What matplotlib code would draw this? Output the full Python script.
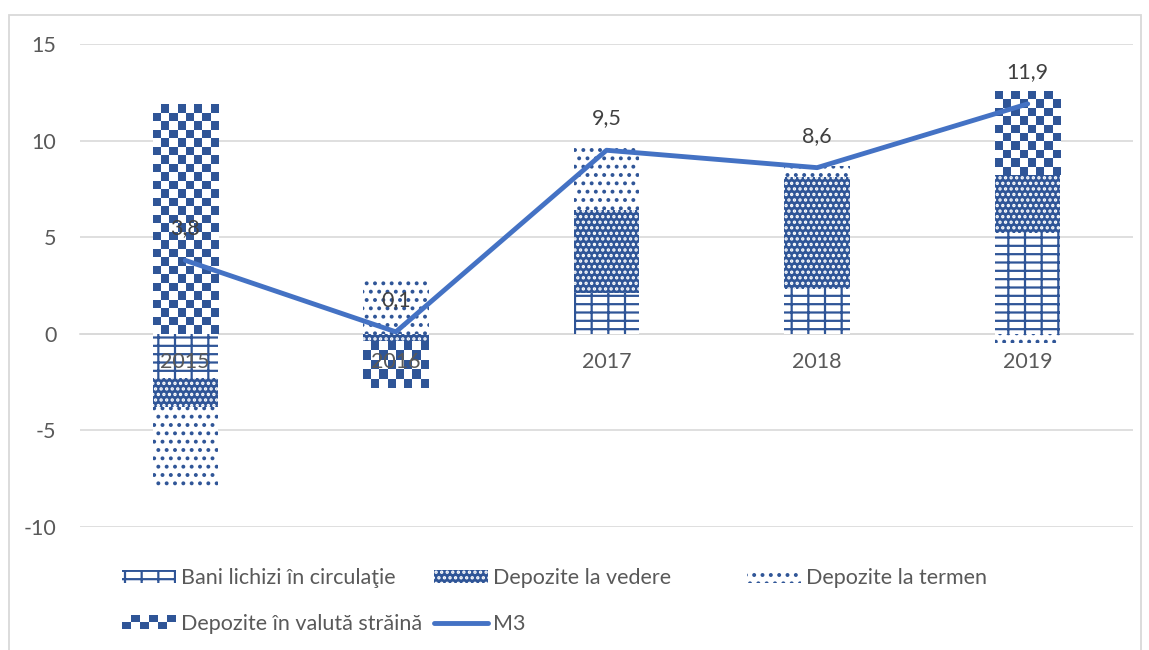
import numpy as np
import matplotlib.pyplot as plt
from matplotlib.colors import ListedColormap
from matplotlib.patches import Rectangle
from matplotlib.legend_handler import HandlerBase

plt.rcParams['font.family'] = ['Lato', 'DejaVu Sans']
plt.rcParams['hatch.linewidth'] = 1.6

years = ['2015', '2016', '2017', '2018', '2019']
bani = [-2.3, 0.0, 2.1, 2.3, 5.2]
vedere = [-1.5, -0.4, 4.3, 5.8, 3.0]
termen = [-4.1, 2.9, 3.2, 0.6, -0.5]
valuta = [11.9, -2.4, 0.0, 0.0, 4.3]
m3 = [3.8, 0.1, 9.5, 8.6, 11.9]
m3_labels = ['3,8', '0,1', '9,5', '8,6', '11,9']

blue = '#2F5597'
line_blue = '#4472C4'
txt = '#595959'
grid = '#D9D9D9'
fs = 15.5

W, H = 1149, 650
fig = plt.figure(figsize=(W / 100, H / 100), dpi=100)
fig.patches.append(Rectangle((9 / W, -0.1), 1132 / W, 1.1 - 15 / H,
                             transform=fig.transFigure, fill=False,
                             edgecolor=grid, linewidth=1.3))
ax = fig.add_axes([80 / W, 123 / H, 1053 / W, 483 / H])
ax.set_xlim(-0.5, 4.5)
ax.set_ylim(-10, 15)

x = np.arange(len(years))
bw = 0.31

# stack positives and negatives separately like Excel
series = [bani, vedere, termen, valuta]
pos = np.zeros(len(years))
neg = np.zeros(len(years))
bottoms = []
for s in series:
    s = np.array(s)
    b = np.where(s >= 0, pos, neg)
    bottoms.append(b)
    pos += np.where(s >= 0, s, 0)
    neg += np.where(s < 0, s, 0)

h_bani = ax.bar(x, bani, bw, bottom=bottoms[0], facecolor='white',
                edgecolor=blue, hatch='--|', linewidth=0, zorder=2)
h_ved = ax.bar(x, vedere, bw, bottom=bottoms[1], facecolor=blue,
               edgecolor='white', hatch='...', linewidth=0, zorder=2)
h_ter = ax.bar(x, termen, bw, bottom=bottoms[2], facecolor='white',
               edgecolor=blue, hatch='..', linewidth=0, zorder=2)
h_val = ax.bar(x, valuta, bw, bottom=bottoms[3], facecolor='white',
               edgecolor=blue, linewidth=0, zorder=2)

# checkerboard fill for foreign currency deposits
px_x = 1053 / 5.0
px_y = 483 / 25.0
sq = 8.5
cmap = ListedColormap(['white', blue])
for xi, b, v in zip(x, bottoms[3], valuta):
    if v == 0:
        continue
    y0, y1 = sorted([b, b + v])
    nx = max(1, int(round(bw * px_x / sq)))
    ny = max(1, int(round((y1 - y0) * px_y / sq)))
    ii, jj = np.indices((ny, nx))
    board = (ii + jj) % 2
    ax.imshow(board, cmap=cmap, extent=(xi - bw / 2, xi + bw / 2, y0, y1),
              aspect='auto', interpolation='nearest', origin='lower', zorder=2)
ax.set_xlim(-0.5, 4.5)
ax.set_ylim(-10, 15)

line, = ax.plot(x, m3, color=line_blue, linewidth=3.5, zorder=3,
                solid_capstyle='round')
for xi, v, lab in zip(x, m3, m3_labels):
    ax.annotate(lab, (xi, v), xytext=(0, 23), textcoords='offset points',
                ha='center', va='center', fontsize=fs, color='#404040', zorder=4)

# category labels sit on top of the bars
for xi, yr in zip(x, years):
    ax.annotate(yr, (xi, 0), xytext=(0, -20), textcoords='offset points',
                ha='center', va='center', fontsize=fs, color=txt, zorder=5)

ax.set_yticks([-10, -5, 0, 5, 10, 15])
ax.set_yticklabels(['-10', '-5', '0', '5', '10', '15'])
ax.grid(axis='y', color=grid, linewidth=1.2, zorder=0)
ax.set_axisbelow(True)
for s in ['top', 'right', 'left']:
    ax.spines[s].set_visible(False)
ax.spines['bottom'].set_position(('data', 0))
ax.spines['bottom'].set_color(grid)
ax.spines['bottom'].set_linewidth(1.2)
ax.spines['bottom'].set_zorder(1)
ax.set_xticks([])
ax.tick_params(axis='y', length=0, pad=17, labelsize=fs, labelcolor=txt)


class CheckerHandler(HandlerBase):
    def create_artists(self, legend, orig_handle, xdescent, ydescent,
                       width, height, fontsize, trans):
        n = 6
        rows = 2
        w = width / n
        h = height / rows
        arts = []
        for r in range(rows):
            for c in range(n):
                col = blue if (r + c) % 2 == 0 else 'white'
                arts.append(Rectangle((-xdescent + c * w, -ydescent + r * h), w, h,
                                      facecolor=col, edgecolor='none',
                                      transform=trans))
        return arts


val_proxy = Rectangle((0, 0), 1, 1)
columns = [
    ([h_bani, val_proxy], ['Bani lichizi în circulaţie', 'Depozite în valută străină'], 122),
    ([h_ved, line], ['Depozite la vedere', 'M3'], 434),
    ([h_ter], ['Depozite la termen'], 747),
]
for hs, labs, left in columns:
    fig.legend(hs, labs, loc='upper left', bbox_to_anchor=(left / W, 1 - 568 / H),
               frameon=False, fontsize=fs, labelcolor=txt, handlelength=2.5,
               handleheight=0.6, handletextpad=0.25, labelspacing=1.2,
               borderpad=0, borderaxespad=0,
               handler_map={val_proxy: CheckerHandler()})

fig.savefig('out.png', dpi=100)
